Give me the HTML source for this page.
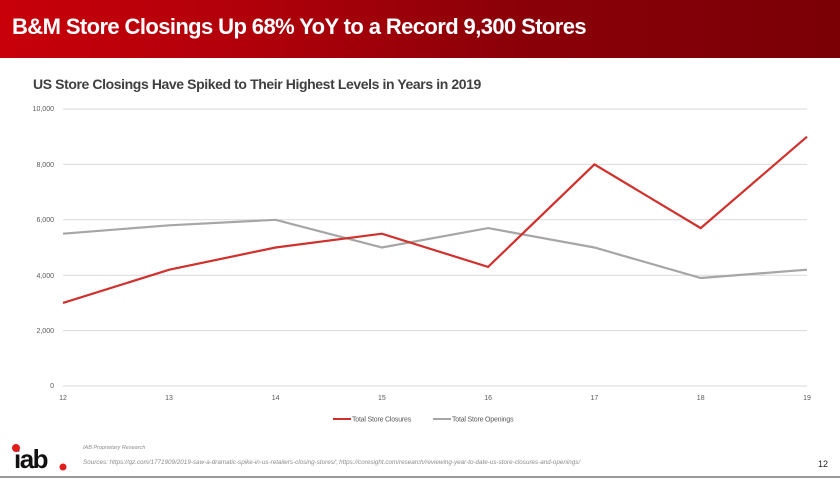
<!DOCTYPE html>
<html><head><style>
body{margin:0;width:840px;height:480px;overflow:hidden;background:#fff;font-family:"Liberation Sans",sans-serif;position:relative}
.hdr{position:absolute;left:0;top:0;width:840px;height:58px;background:linear-gradient(90deg,#c8000a 0%,#b0000a 30%,#8c0008 60%,#7a0006 100%)}
.hdr div{position:absolute;left:12px;top:14px;color:#fff;font-size:22px;font-weight:bold;letter-spacing:-0.6px}
.sub{position:absolute;left:33px;top:76px;font-size:14px;font-weight:bold;color:#404040;letter-spacing:-0.4px}
</style></head><body>
<div class="hdr"><div>B&amp;M Store Closings Up 68% YoY to a Record 9,300 Stores</div></div>
<div class="sub">US Store Closings Have Spiked to Their Highest Levels in Years in 2019</div>
<svg width="840" height="480" style="position:absolute;left:0;top:0" font-family="Liberation Sans, sans-serif">
<g stroke="#d9d9d9" stroke-width="1">
<line x1="63" x2="807" y1="109" y2="109"/><line x1="63" x2="807" y1="164.4" y2="164.4"/>
<line x1="63" x2="807" y1="219.8" y2="219.8"/><line x1="63" x2="807" y1="275.2" y2="275.2"/>
<line x1="63" x2="807" y1="330.6" y2="330.6"/><line x1="63" x2="807" y1="386" y2="386"/>
</g>
<g font-size="7" fill="#595959" text-anchor="end">
<text x="54" y="111">10,000</text><text x="54" y="167">8,000</text><text x="54" y="222">6,000</text>
<text x="54" y="278">4,000</text><text x="54" y="333">2,000</text><text x="54" y="388">0</text>
</g>
<g font-size="7" fill="#595959" text-anchor="middle">
<text x="63" y="400">12</text><text x="169" y="400">13</text><text x="275.6" y="400">14</text><text x="381.9" y="400">15</text>
<text x="488.1" y="400">16</text><text x="594.4" y="400">17</text><text x="700.7" y="400">18</text><text x="807" y="400">19</text>
</g>
<polyline fill="none" stroke="#a6a6a6" stroke-width="2.2" points="63,233.7 169.3,225.3 275.6,219.8 381.9,247.5 488.1,228.1 594.4,247.5 700.7,278 807,269.7"/>
<polyline fill="none" stroke="#d0312d" stroke-width="2.2" points="63,302.9 169.3,269.7 275.6,247.5 381.9,233.7 488.1,266.9 594.4,164.4 700.7,228.1 807,136.7"/>
<line x1="333" x2="351" y1="419" y2="419" stroke="#d0312d" stroke-width="2"/>
<text x="352" y="421.5" font-size="7" fill="#595959" letter-spacing="-0.2">Total Store Closures</text>
<line x1="433" x2="451" y1="419" y2="419" stroke="#a6a6a6" stroke-width="2"/>
<text x="452" y="421.5" font-size="7" fill="#595959" letter-spacing="-0.2">Total Store Openings</text>
<text x="83" y="449" font-size="5.5" font-style="italic" fill="#8c8c8c">IAB Proprietary Research</text>
<text x="83" y="464" font-size="6.3" font-style="italic" fill="#8c8c8c">Sources: https://qz.com/1771909/2019-saw-a-dramatic-spike-in-us-retailers-closing-stores/; https://coresight.com/research/reviewing-year-to-date-us-store-closures-and-openings/</text>
<text x="14" y="468" font-size="26" font-weight="bold" fill="#111" letter-spacing="-1.5">iab</text>
<circle cx="16" cy="448" r="4" fill="#e21c1c"/>
<circle cx="63" cy="467" r="3.5" fill="#e21c1c"/>
<text x="818" y="467" font-size="9" fill="#222">12</text>
<line x1="0" x2="840" y1="477" y2="477" stroke="#999" stroke-width="2"/>
</svg>
</body></html>
